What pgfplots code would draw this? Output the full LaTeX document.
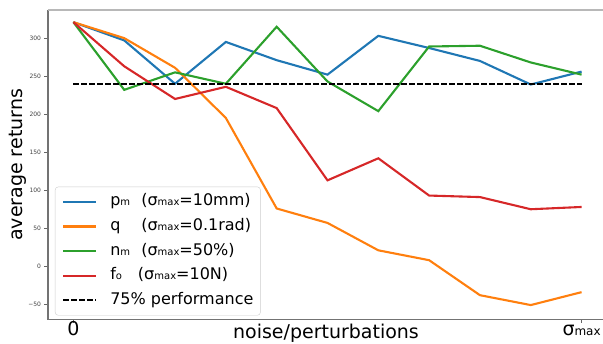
\documentclass[border=0pt]{standalone}
\usepackage{pgfplots}
\pgfplotsset{compat=1.18}
\usepackage{fontspec}
\setmainfont{DejaVu Sans}
\definecolor{cblue}{HTML}{1F77B4}
\definecolor{corange}{HTML}{FF7F0E}
\definecolor{cgreen}{HTML}{2CA02C}
\definecolor{cred}{HTML}{D62728}
\newcommand\lsub[1]{{\fontsize{10}{10}\selectfont #1}}
\newcommand\xsub[1]{{\fontsize{12}{12}\selectfont #1}}
\begin{document}
\begin{tikzpicture}
\begin{axis}[
  at={(0,0)}, anchor=south west,
  scale only axis, width=559pt, height=309.3pt,
  xmin=-0.5, xmax=10.5, ymin=-69.7, ymax=337,
  clip=false,
  axis line style={draw=none},
  tick align=outside, tick pos=left,
  major tick length=3.5pt,
  tick style={black!60, line width=0.8pt},
  xtick={0,10}, xticklabels={0,σ\xsub{max}},
  ytick={-50,0,50,100,150,200,250,300},
  yticklabels={−50,0,50,100,150,200,250,300},
  xticklabel style={font=\fontsize{19}{22}\selectfont, anchor=base, yshift=-13pt},
  yticklabel style={font=\fontsize{6}{7}\selectfont, text=black!75},
  xlabel={noise/perturbations},
  xlabel style={at={(axis cs:4.97,-94.3)}, anchor=base, font=\fontsize{19}{22}\selectfont},
  ylabel={average returns},
  ylabel style={at={(axis cs:-1.09,133.3)}, anchor=center, font=\fontsize{19}{22}\selectfont},
  legend cell align=left,
  legend image code/.code={\draw[#1] (0pt,0pt) -- (33pt,0pt);},
  legend style={at={(rel axis cs:0,0)}, anchor=south west, xshift=7pt, yshift=3.8pt,
    draw=black!20, rounded corners=3pt, fill=white,
    font=\fontsize{16}{19}\selectfont, inner xsep=7pt, inner ysep=7pt,
    row sep=8.6pt, column sep=13pt,
    nodes={inner sep=0pt, text height=12pt, text depth=4pt}},
]
\draw[black!55, line width=1.1pt] (rel axis cs:0,1) -- (rel axis cs:0,0) -- (rel axis cs:1,0);
\draw[black!28, line width=1.1pt] (rel axis cs:0,1) -- (rel axis cs:1,1);
\addplot[cblue, line width=2.1pt] coordinates {(0,321) (1,297) (2,240) (3,295) (4,271) (5,252) (6,303) (7,287) (8,270) (9,239) (10,256)};
\addlegendentry{\makebox[31pt][l]{p\lsub{m}}(σ\lsub{max}=10mm)}
\addplot[corange, line width=2.1pt] coordinates {(0,321) (1,300) (2,261) (3,195) (4,76) (5,57) (6,21) (7,8) (8,-38) (9,-51) (10,-34)};
\addlegendentry{\makebox[31pt][l]{q}(σ\lsub{max}=0.1rad)}
\addplot[cgreen, line width=2.1pt] coordinates {(0,321) (1,232) (2,255) (3,240) (4,315) (5,243) (6,204) (7,289) (8,290) (9,268) (10,252)};
\addlegendentry{\makebox[31pt][l]{n\lsub{m}}(σ\lsub{max}=50\%)}
\addplot[cred, line width=2.1pt] coordinates {(0,321) (1,263) (2,220) (3,236) (4,208) (5,113) (6,142) (7,93) (8,91) (9,75) (10,78)};
\addlegendentry{\makebox[27.7pt][l]{f\lsub{o}}(σ\lsub{max}=10N)}
\addplot[black, line width=1.6pt, dash pattern=on 5.5pt off 2.5pt] coordinates {(0,240) (10,240)};
\addlegendentry{75\% performance}
\end{axis}
\pgfresetboundingbox
\path[use as bounding box] (-48pt,-24.7pt) rectangle (555pt,319.3pt);
\end{tikzpicture}
\end{document}
